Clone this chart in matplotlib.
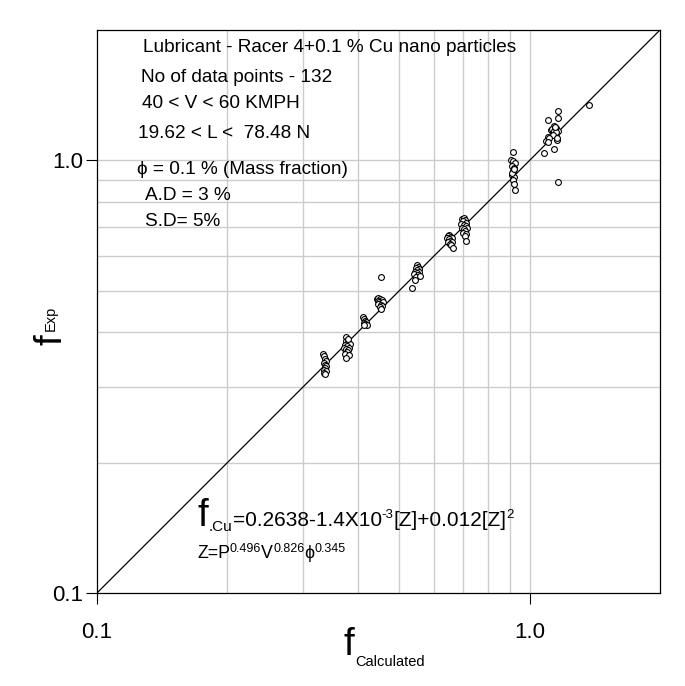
import matplotlib
matplotlib.use('Agg')
import matplotlib.pyplot as plt
from matplotlib.transforms import offset_copy

plt.rcParams['font.family'] = ['Liberation Sans', 'DejaVu Sans']

# measured friction vs calculated friction, grouped by cluster
f_calc = [
    0.333, 0.335, 0.336, 0.338, 0.334, 0.337, 0.339, 0.336, 0.334, 0.338, 0.335, 0.337,
    0.376, 0.377, 0.381, 0.384, 0.374, 0.379, 0.383, 0.372, 0.376, 0.380, 0.378, 0.374, 0.382, 0.376, 0.380,
    0.412, 0.414, 0.416, 0.418, 0.413, 0.417, 0.420, 0.415,
    0.443, 0.447, 0.451, 0.455, 0.445, 0.449, 0.453, 0.458, 0.446, 0.452, 0.456, 0.450, 0.454, 0.452,
    0.548, 0.552, 0.545, 0.556, 0.550, 0.543, 0.555, 0.548, 0.540, 0.553, 0.546, 0.559, 0.544, 0.535,
    0.652, 0.648, 0.656, 0.645, 0.660, 0.650, 0.655, 0.647, 0.662, 0.653, 0.658, 0.664,
    0.696, 0.703, 0.710, 0.700, 0.714, 0.694, 0.706, 0.712, 0.699, 0.716, 0.704, 0.709, 0.701, 0.713, 0.707, 0.711,
    0.915, 0.905, 0.916, 0.925, 0.908, 0.922, 0.915, 0.912, 0.920, 0.913, 0.918, 0.925, 0.910, 0.918,
    1.160, 1.100, 1.165, 1.140, 1.135, 1.150, 1.120, 1.160, 1.130, 1.145, 1.150, 1.105, 1.090,
    1.155, 1.080, 1.140, 1.125, 1.142, 1.138, 1.148, 1.132, 1.110, 1.158, 1.100, 1.145, 1.165,
    1.368,
]
f_exp = [
    0.357, 0.352, 0.347, 0.343, 0.340, 0.337, 0.334, 0.331, 0.328, 0.326, 0.323, 0.321,
    0.390, 0.383, 0.380, 0.377, 0.375, 0.372, 0.369, 0.368, 0.366, 0.364, 0.360, 0.357, 0.355, 0.350, 0.386,
    0.435, 0.430, 0.426, 0.423, 0.421, 0.419, 0.417, 0.416,
    0.478, 0.480, 0.477, 0.475, 0.472, 0.470, 0.468, 0.471, 0.466, 0.463, 0.460, 0.457, 0.452, 0.537,
    0.572, 0.568, 0.563, 0.561, 0.557, 0.553, 0.552, 0.548, 0.545, 0.543, 0.538, 0.540, 0.530, 0.507,
    0.672, 0.668, 0.665, 0.661, 0.662, 0.657, 0.652, 0.648, 0.647, 0.642, 0.636, 0.628,
    0.731, 0.735, 0.728, 0.722, 0.716, 0.712, 0.708, 0.703, 0.699, 0.697, 0.692, 0.686, 0.680, 0.676, 0.668, 0.652,
    1.043, 1.000, 0.995, 0.985, 0.970, 0.962, 0.945, 0.925, 0.915, 0.900, 0.880, 0.852, 0.935, 0.955,
    1.297, 1.240, 1.250, 1.200, 1.190, 1.185, 1.175, 1.170, 1.160, 1.150, 1.140, 1.130, 1.110,
    1.115, 1.040, 1.060, 1.180, 1.178, 1.168, 1.162, 1.145, 1.125, 1.128, 1.100, 1.195, 0.890,
    1.340,
]

axis_lim = [0.1, 2.0]
grid_vals = [0.2, 0.3, 0.4, 0.5, 0.6, 0.7, 0.8, 0.9, 1.0]
tick_vals = [0.1, 1.0]
tick_labels = ['0.1', '1.0']

info_lines = [
    'Lubricant - Racer 4+0.1 % Cu nano particles',
    'No of data points - 132',
    '40 < V < 60 KMPH',
    '19.62 < L <  78.48 N',
    '\u03d5 = 0.1 % (Mass fraction)',
    'A.D = 3 %',
    'S.D= 5%',
]


def chain_text(ax, x, y, parts):
    # write pieces of text one after another on a common baseline
    fig = ax.figure
    r = fig.canvas.get_renderer()
    dx = 0.0
    for s, size, rise in parts:
        tr = offset_copy(ax.transAxes, fig=fig, x=dx, y=rise, units='dots')
        t = ax.text(x, y, s, fontsize=size, transform=tr, va='baseline', ha='left')
        dx += t.get_window_extent(r).width


fig = plt.figure(figsize=(6.85, 6.86), dpi=100)
ax = fig.add_axes([97 / 685, 93 / 686, 563 / 685, 563 / 686])

ax.set_xscale('log')
ax.set_yscale('log')
ax.set_xlim(axis_lim)
ax.set_ylim(axis_lim)

for g in grid_vals:
    ax.axvline(g, color='#cccccc', lw=1, zorder=0)
    ax.axhline(g, color='#cccccc', lw=1, zorder=0)

ax.plot(axis_lim, axis_lim, color='black', lw=0.9, zorder=2)
ax.plot(f_calc, f_exp, 'o', ms=4.2, mfc='white', mec='black', mew=0.8, zorder=3)

ax.set_xticks(tick_vals)
ax.set_xticklabels(tick_labels)
ax.set_yticks(tick_vals)
ax.set_yticklabels(tick_labels)
ax.minorticks_off()
ax.tick_params(axis='both', direction='out', length=8, width=0.8, labelsize=16)
ax.tick_params(axis='x', pad=13)
ax.tick_params(axis='y', pad=2)
for sp in ax.spines.values():
    sp.set_linewidth(0.9)

# text block in upper left
line_pos = [(143, 47), (141, 78), (142, 104), (138, 134), (137, 169), (145, 196), (145, 222)]
for s, (px, py) in zip(info_lines, line_pos):
    ax.text((px - 97) / 563, (593 - py) / 563, s, fontsize=13.7,
            ha='left', va='center', transform=ax.transAxes)

fig.canvas.draw()
chain_text(ax, (198 - 97) / 563, (593 - 526) / 563, [
    ('f', 28, 0), ('.Cu', 11, -5), ('=0.2638-1.4X10', 15, 0), ('-3', 9.5, 8),
    ('[Z]+0.012[Z]', 15, 0), ('2', 9.5, 8),
])
chain_text(ax, (197 - 97) / 563, (593 - 558) / 563, [
    ('Z=P', 12.8, 0), ('0.496', 9, 6.5), ('V', 12.8, 0), ('0.826', 9, 6.5),
    ('\u03d5', 12.8, 0), ('0.345', 9, 6.5),
])

# axis labels: big f with subscript
fig.text(343 / 685, 1 - 655 / 686, 'f', fontsize=28, ha='left', va='baseline')
fig.text(355 / 685, 1 - 666 / 686, 'Calculated', fontsize=10.5, ha='left', va='baseline')
fig.text(34 / 685, 1 - 345 / 686, 'f', fontsize=28, rotation=90, ha='left', va='bottom')
fig.text(44 / 685, 1 - 331 / 686, 'Exp', fontsize=10.5, rotation=90, ha='left', va='bottom')

fig.savefig('out.png', dpi=100)
